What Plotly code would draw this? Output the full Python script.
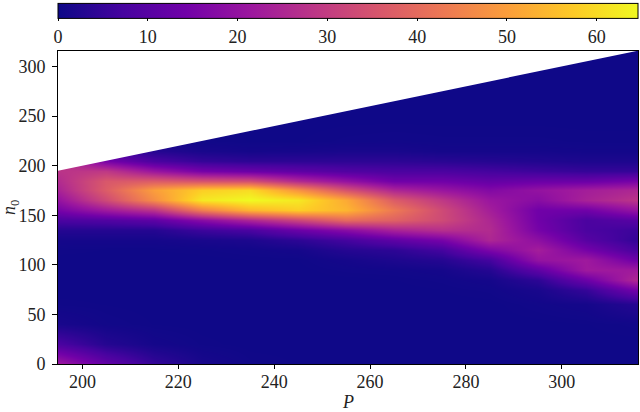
import plotly.graph_objects as go

P_values = [195, 205, 215, 225, 235, 245, 255, 265, 275, 285, 295, 305, 315]
n0_values = [0, 20, 40, 60, 75, 85, 95, 105, 115, 125, 135, 145, 155, 165, 175, 185, 195, 205, 215, 225, 250, 285, 315]

col_195 = [22, 8, 1.5, .4, .2, .2, .2, .2, .4, 1, 3, 8, 15, 20, 24, 26, 28, 30, 28, 22, 8, 2, .5]
col_205 = [12, 3, .6, .3, .2, .2, .2, .2, .3, 1, 3, 9, 22, 33, 37, 36, 29, 15, 7, 3, 1, .3, .2]
col_215 = [5, 1, .3, .2, .2, .2, .2, .2, .3, 1, 3, 11, 28, 47, 50, 37, 21, 8, 3, 1, .4, .2, .2]
col_225 = [1.5, .4, .2, .2, .2, .2, .2, .2, .4, 1.5, 6, 18, 44, 62, 58, 35, 15, 5, 1.5, .5, .2, .2, .2]
col_235 = [.5, .2, .2, .2, .2, .2, .2, .3, .6, 2, 8, 25, 54, 64.6, 60, 34, 13, 4, 1, .3, .2, .2, .2]
col_245 = [.3, .2, .2, .2, .2, .2, .2, .3, 1, 4, 13, 32, 58, 62, 48, 26, 11, 4, 1.2, .3, .2, .2, .2]
col_255 = [.2, .2, .2, .2, .2, .2, .5, 1, 3, 7, 18, 40, 54, 52, 35, 20, 9, 4, 1.5, .5, .2, .2, .2]
col_265 = [.2, .2, .2, .2, .2, .3, .6, 2, 4, 11, 24, 38, 43, 37, 25, 14, 8, 4, 1.5, .6, .2, .2, .2]
col_275 = [.2, .2, .2, .2, .3, .5, 1, 3, 7, 15, 27, 33, 33, 29, 21, 14, 8, 3.5, 1, .5, .2, .2, .2]
col_285 = [.2, .2, .2, .2, .5, 1, 3, 7, 16, 25, 26, 25, 23, 21, 17, 12, 7, 3, 1, .5, .2, .2, .2]
col_295 = [.2, .2, .2, .6, 1.5, 4, 11, 20, 23, 19, 15, 14, 14, 18, 20, 13, 6, 2.5, 1, .5, .2, .2, .2]
col_305 = [.2, .2, .3, 1, 5, 13, 22, 22, 15, 10, 8, 8, 14, 24, 23, 13, 5, 2, .8, .4, .2, .2, .2]
col_315 = [.2, .2, .5, 3, 14, 25, 22, 14, 8, 5, 6, 10, 20, 28, 25, 15, 5, 2, .8, .4, .2, .2, .2]

columns = [col_195, col_205, col_215, col_225, col_235, col_245, col_255,
           col_265, col_275, col_285, col_295, col_305, col_315]
z = [list(row) for row in zip(*columns)]

x_tick_values = [200, 220, 240, 260, 280, 300]
y_tick_values = [0, 50, 100, 150, 200, 250, 300]
colorbar_ticks = [0, 10, 20, 30, 40, 50, 60]
z_max = 64.6
x_range = [194.9, 315.9]
y_range = [0, 315.6]

FONT = "Liberation Serif"
INK = "#222"

fig = go.Figure()
fig.add_trace(go.Heatmap(
    x=P_values, y=n0_values, z=z, zmin=0, zmax=z_max, zsmooth="best",
    colorscale="Plasma", hoverinfo="skip",
    colorbar=dict(
        orientation="h", x=0, xanchor="left", len=1, lenmode="fraction",
        y=1.011, yanchor="bottom", yref="paper", thickness=15, thicknessmode="pixels",
        tickvals=colorbar_ticks, ticks="outside", ticklen=3, tickwidth=1, tickcolor="black",
        tickfont=dict(family=FONT, size=18, color=INK),
        outlinecolor="black", outlinewidth=1, xpad=0, ypad=0,
    ),
))
# region above the n0 = P limit is blank
fig.add_trace(go.Scatter(
    x=[x_range[0], x_range[1], x_range[0], x_range[0]],
    y=[x_range[0], x_range[1], x_range[1], x_range[0]],
    mode="lines", fill="toself", fillcolor="white",
    line=dict(color="white", width=0), hoverinfo="skip", showlegend=False,
))
axis_common = dict(showgrid=False, zeroline=False, showline=True, linecolor="black", linewidth=1,
                   mirror=True, ticks="outside", tickwidth=1, tickcolor="black",
                   automargin=False, tickfont=dict(family=FONT, size=18, color=INK))
fig.update_xaxes(range=x_range, tickvals=x_tick_values, ticklen=4, ticklabelstandoff=-3, **axis_common)
fig.update_yaxes(range=y_range, tickvals=y_tick_values, ticklen=5, ticklabelstandoff=3, **axis_common)
fig.update_layout(
    width=640, height=412, autosize=False,
    margin=dict(l=57.5, r=1.5, t=50.5, b=48, pad=0, autoexpand=False),
    paper_bgcolor="white", plot_bgcolor="white", showlegend=False,
    annotations=[
        dict(text="<i>P</i>", xref="paper", yref="paper", x=0.5, y=-0.12, xanchor="center", yanchor="middle",
             showarrow=False, font=dict(family=FONT, size=18, color=INK)),
        dict(text="<i>n</i><sub>0</sub>", xref="paper", yref="paper", x=-0.082, y=0.5, xanchor="center",
             yanchor="middle", textangle=-90, showarrow=False, font=dict(family=FONT, size=18, color=INK)),
    ],
)
fig.write_html("out.html", config={"displayModeBar": False},
               post_script="document.body.style.margin='0';")
